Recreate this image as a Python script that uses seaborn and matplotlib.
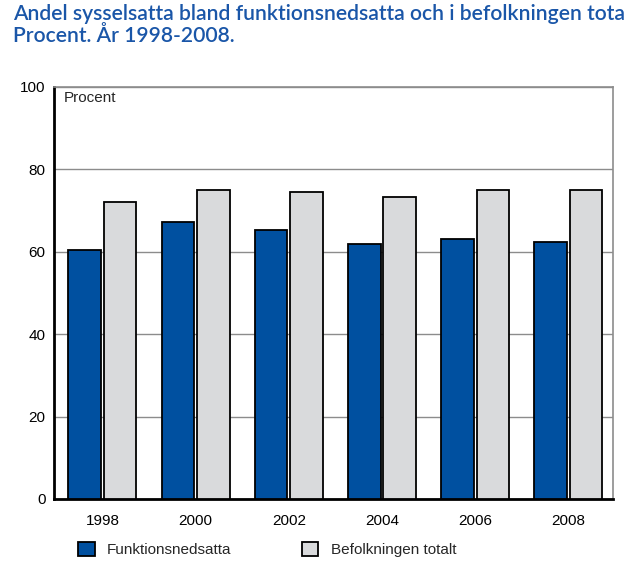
import pandas as pd
import seaborn as sns
import matplotlib.pyplot as plt
from matplotlib.patches import Patch

# Data
years = ["1998", "2000", "2002", "2004", "2006", "2008"]
funktionsnedsatta = [60.4, 67.3, 65.4, 62.0, 63.2, 62.3]
befolkningen = [72.2, 75.1, 74.6, 73.2, 75.1, 75.1]
series = ["Funktionsnedsatta", "Befolkningen totalt"]
colors = ["#0050A0", "#D9DADC"]

df = pd.DataFrame({
    "year": years * 2,
    "value": funktionsnedsatta + befolkningen,
    "group": [series[0]] * len(years) + [series[1]] * len(years),
})

sns.set_style("white")
plt.rcParams["font.family"] = ["Liberation Sans", "DejaVu Sans"]

fig = plt.figure(figsize=(6.33, 5.76), dpi=100)
ax = fig.add_axes([54 / 633, 1 - 499 / 576, 559 / 633, 412 / 576])

sns.barplot(data=df, x="year", y="value", hue="group", palette=colors,
            saturation=1, width=0.76, gap=0.08, edgecolor="black",
            linewidth=1.3, legend=False, ax=ax, zorder=3)

ax.set_ylim(0, 100)
ax.set_xlim(-0.52, 5.48)
ax.set_yticks([0, 20, 40, 60, 80, 100])
ax.yaxis.grid(True, color="#8c8c8c", linewidth=1, zorder=0)
ax.set_axisbelow(True)
ax.set_xlabel("")
ax.set_ylabel("")
ax.tick_params(axis="both", length=0, labelsize=11, colors="black")
ax.tick_params(axis="x", pad=11)
ax.tick_params(axis="y", pad=6)

for side in ["left", "bottom"]:
    ax.spines[side].set_color("black")
    ax.spines[side].set_linewidth(2)
for side in ["top", "right"]:
    ax.spines[side].set_color("#8c8c8c")
    ax.spines[side].set_linewidth(1.2)

ax.text(0.018, 0.99, "Procent", transform=ax.transAxes, ha="left", va="top",
        fontsize=11)

# Title (as visible in the reference, the first line ends at the edge)
fig.text(13 / 633, 1 - 4 / 576,
         "Andel sysselsatta bland funktionsnedsatta och i befolkningen tota\nProcent. År 1998-2008.",
         ha="left", va="top", fontsize=15.2, fontweight="semibold", color="#1A56A8",
         family=["Lato", "DejaVu Sans"], linespacing=1.12)

# Legend
handles = [Patch(facecolor=c, edgecolor="black", linewidth=1.3) for c in colors]
fig.legend(handles, series, loc="upper left",
           bbox_to_anchor=(64 / 633, 1 - 528 / 576), ncol=2, frameon=False,
           fontsize=11, handlelength=1.1, handleheight=1.1,
           handletextpad=0.8, columnspacing=4.6)

fig.savefig("out.png", dpi=100)
